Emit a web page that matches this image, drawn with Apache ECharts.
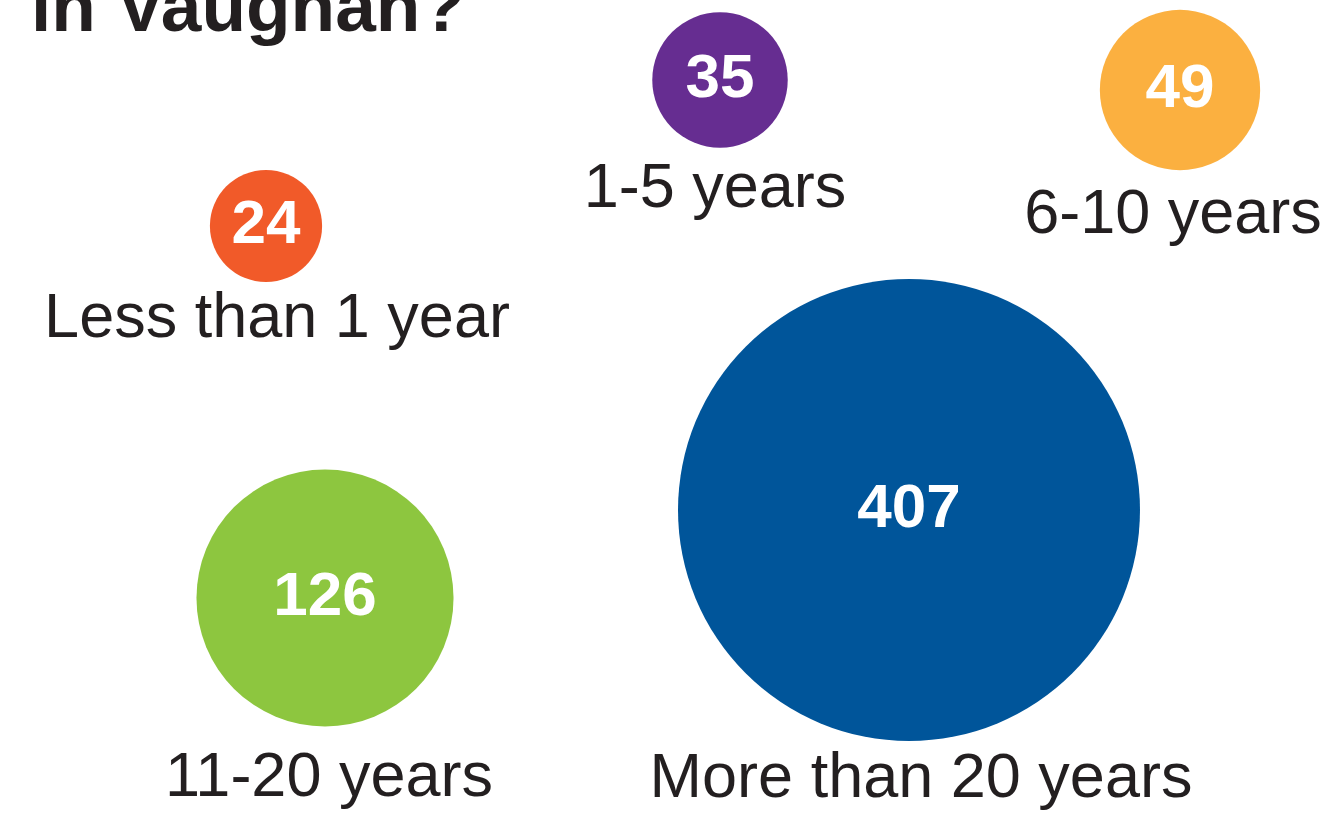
<!DOCTYPE html>
<html>
<head>
<meta charset="utf-8">
<script src="https://cdn.jsdelivr.net/npm/echarts@6/dist/echarts.min.js"></script>
<style>
html,body{margin:0;padding:0;background:#fff;}
#chart{width:1321px;height:816px;}
</style>
</head>
<body>
<div id="chart"></div>
<script>
// Data
var categories = ['Less than 1 year', '1-5 years', '6-10 years', '11-20 years', 'More than 20 years'];
var values = [24, 35, 49, 126, 407];
var colors = ['#F15A29', '#662D91', '#FBB040', '#8DC63F', '#00559A'];
var titleText = 'in Vaughan?';

// Layout (bubble centres and label centres, in axis units)
var bubbleX = [266, 720, 1180, 325, 909];
var bubbleY = [226, 80, 90, 598, 510];
var labelX = [277, 715, 1173, 329, 921];
var labelY = [320, 190, 216, 779, 780];

var FONT = '"Liberation Sans", Arial, sans-serif';
var sizeScale = 22.9; // diameter per sqrt(value)

var bubbleData = values.map(function (v, i) {
  return {
    value: [bubbleX[i], bubbleY[i], v],
    itemStyle: { color: colors[i], opacity: 1 }
  };
});
var labelData = categories.map(function (c, i) {
  return { value: [labelX[i], labelY[i]], name: c };
});

var chart = echarts.init(document.getElementById('chart'), null, { renderer: 'canvas' });
chart.setOption({
  backgroundColor: '#ffffff',
  animation: false,
  title: {
    text: titleText,
    left: 26,
    top: -31,
    textStyle: { fontFamily: FONT, fontSize: 73, fontWeight: 'bold', color: '#231F20' }
  },
  grid: { left: 0, right: 0, top: 0, bottom: 0 },
  xAxis: { type: 'value', min: 0, max: 1321, show: false },
  yAxis: { type: 'value', min: 0, max: 816, inverse: true, show: false },
  series: [
    {
      type: 'scatter',
      data: bubbleData,
      symbol: 'circle',
      symbolSize: function (d) { return sizeScale * Math.sqrt(d[2]); },
      itemStyle: { opacity: 1 },
      label: {
        show: true,
        position: 'inside',
        formatter: function (p) { return p.value[2]; },
        fontFamily: FONT,
        fontWeight: 'bold',
        fontSize: 62,
        color: '#ffffff',
        opacity: 1
      },
      emphasis: { disabled: true }
    },
    {
      type: 'scatter',
      data: labelData,
      symbolSize: 0,
      itemStyle: { opacity: 1 },
      label: {
        show: true,
        position: 'inside',
        formatter: function (p) { return p.name; },
        fontFamily: FONT,
        fontSize: 63,
        color: '#231F20',
        opacity: 1
      },
      emphasis: { disabled: true }
    }
  ]
});
</script>
</body>
</html>
